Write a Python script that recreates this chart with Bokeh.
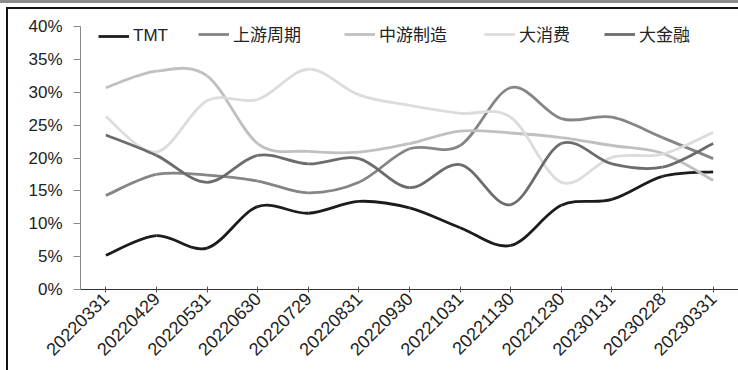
import math
from bokeh.plotting import figure
from bokeh.models import FixedTicker, Legend, LegendItem, Range1d, InlineStyleSheet
from bokeh.embed import file_html
from bokeh.resources import INLINE

# month-end dates
dates = ["20220331", "20220429", "20220531", "20220630", "20220729", "20220831",
         "20220930", "20221031", "20221130", "20221230", "20230131", "20230228", "20230331"]

# weights by sector group (%)
tmt = [5.2, 8.2, 6.3, 12.6, 11.6, 13.4, 12.4, 9.4, 6.7, 12.8, 13.7, 17.2, 17.9]
upstream = [14.3, 17.5, 17.4, 16.5, 14.7, 16.3, 21.4, 21.9, 30.7, 26.0, 26.2, 23.1, 19.9]
midstream = [30.7, 33.2, 32.5, 22.2, 21.0, 20.9, 22.2, 24.1, 23.8, 23.1, 21.9, 20.7, 16.6]
consumer = [26.3, 20.9, 28.7, 28.9, 33.5, 29.6, 28.0, 26.8, 26.2, 16.3, 20.1, 20.6, 23.9]
finance = [23.5, 20.4, 16.3, 20.4, 19.1, 19.9, 15.5, 19.0, 12.9, 22.2, 19.1, 18.6, 22.2]

y_ticks = [0, 5, 10, 15, 20, 25, 30, 35, 40]

series = [
    ("TMT", tmt, "#1c1c1c"),
    ("上游周期", upstream, "#858585"),
    ("中游制造", midstream, "#c0c0c0"),
    ("大消费", consumer, "#dcdcdc"),
    ("大金融", finance, "#6c6c6c"),
]
# left edge of each legend entry, in pixels from the plot frame's left side
legend_x = [18, 118, 264, 404, 524]

FONT = "Liberation Sans, Noto Sans CJK SC"

# grey strip across the top and a dark rule framing the chart on top/left
frame_css = InlineStyleSheet(css="""
:host { position: relative; }
:host::before {
  content: ""; position: absolute; left: 0; top: 0; width: 738px; height: 3px;
  background: #8c8c8c; z-index: 10; pointer-events: none;
}
:host::after {
  content: ""; position: absolute; left: 6px; top: 7px; width: 732px; height: 363px;
  border-top: 2px solid #111111; border-left: 2px solid #111111;
  box-sizing: border-box; z-index: 10; pointer-events: none;
}
""")

p = figure(width=738, height=370, output_backend="svg", toolbar_location=None,
           x_range=Range1d(-0.5, len(dates) - 0.5), y_range=Range1d(0, 40),
           min_border_left=80, min_border_right=0, min_border_top=26, min_border_bottom=81)
p.stylesheets = [frame_css]
p.background_fill_color = "white"
p.border_fill_color = "white"
p.outline_line_color = None
p.grid.grid_line_color = None


def smooth_segments(xs, ys):
    """Catmull-Rom style cubic segments through every data point."""
    n = len(xs)
    seg = {k: [] for k in ("x0", "y0", "x1", "y1", "cx0", "cy0", "cx1", "cy1")}
    for i in range(n - 1):
        a = i - 1 if i > 0 else i
        d = i + 2 if i + 2 < n else i + 1
        seg["x0"].append(xs[i]); seg["y0"].append(ys[i])
        seg["x1"].append(xs[i + 1]); seg["y1"].append(ys[i + 1])
        seg["cx0"].append(xs[i] + (xs[i + 1] - xs[a]) / 6.0)
        seg["cy0"].append(ys[i] + (ys[i + 1] - ys[a]) / 6.0)
        seg["cx1"].append(xs[i + 1] - (xs[d] - xs[i]) / 6.0)
        seg["cy1"].append(ys[i + 1] - (ys[d] - ys[i]) / 6.0)
    return seg


xs = list(range(len(dates)))
for (name, vals, color), lx in zip(series, legend_x):
    s = smooth_segments(xs, vals)
    r = p.bezier(x0=s["x0"], y0=s["y0"], x1=s["x1"], y1=s["y1"],
                 cx0=s["cx0"], cy0=s["cy0"], cx1=s["cx1"], cy1=s["cy1"],
                 line_color=color, line_width=2.8)
    leg = Legend(items=[LegendItem(label=name, renderers=[r])], location=(lx, 243),
                 glyph_width=31, glyph_height=16, label_standoff=4,
                 padding=0, margin=0, border_line_alpha=0, background_fill_alpha=0,
                 label_text_font=FONT, label_text_font_size="17px",
                 label_text_color="#222222")
    p.add_layout(leg)

# y axis
p.yaxis.ticker = FixedTicker(ticks=y_ticks)
p.yaxis.major_label_overrides = {t: f"{t}%" for t in y_ticks}
p.yaxis.axis_line_color = "#8a8a8a"
p.yaxis.major_tick_line_color = "#8a8a8a"
p.yaxis.major_tick_out = 7
p.yaxis.major_tick_in = 0
p.yaxis.minor_tick_line_color = None
p.yaxis.major_label_text_font = FONT
p.yaxis.major_label_text_font_size = "17px"
p.yaxis.major_label_text_color = "#222222"
p.yaxis.major_label_standoff = 11

# x axis
p.xaxis.ticker = FixedTicker(ticks=xs)
p.xaxis.major_label_overrides = {i: d for i, d in enumerate(dates)}
p.xaxis.major_label_orientation = math.pi / 4
p.xaxis.axis_line_color = "#333333"
p.xaxis.major_tick_line_color = "#555555"
p.xaxis.major_tick_in = 3
p.xaxis.major_tick_out = 3
p.xaxis.minor_tick_line_color = None
p.xaxis.major_label_text_font = FONT
p.xaxis.major_label_text_font_size = "18px"
p.xaxis.major_label_text_color = "#222222"
p.xaxis.major_label_standoff = 3

open("out.html", "w").write(file_html(p, INLINE))
